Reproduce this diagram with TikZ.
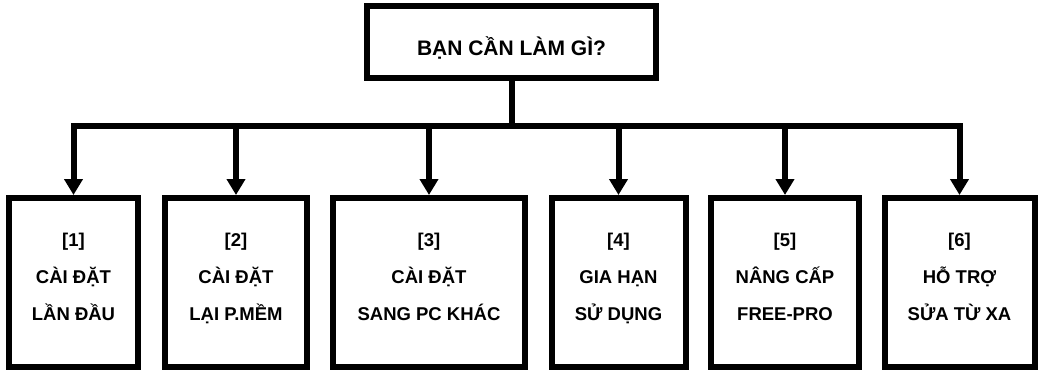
\documentclass[tikz,border=0pt]{standalone}
\usepackage{fontspec}
\setmainfont{Liberation Sans}
\usetikzlibrary{arrows.meta}
\begin{document}
\begin{tikzpicture}[x=1pt,y=-1pt,
  frame/.style={draw=black,line width=6pt,fill=white,inner sep=0pt,minimum height=169pt},
  topframe/.style={draw=black,line width=6pt,fill=white,inner sep=0pt,minimum width=289pt,minimum height=72pt},
  lbl/.style={align=center,inner sep=0pt,font=\fontsize{18.5}{37}\selectfont\bfseries},
  toplbl/.style={anchor=base,inner sep=0pt,font=\fontsize{21}{25}\selectfont\bfseries},
  link/.style={line width=6pt,draw=black},
  arr/.style={line width=6pt,draw=black,-{Triangle[width=18pt,length=16pt]}}
]
\useasboundingbox (0,0) rectangle (1043,370);
% top question
\node[topframe] (top) at (511.5,42) {};
\node[toplbl] (toptext) at (511.5,55) {BẠN CẦN LÀM GÌ?};
% option boxes
\node[frame,minimum width=129pt] (b1) at (73.5,282.5) {};
\node[frame,minimum width=142pt] (b2) at (236,282.5) {};
\node[frame,minimum width=192pt] (b3) at (429,282.5) {};
\node[frame,minimum width=134pt] (b4) at (618.5,282.5) {};
\node[frame,minimum width=148pt] (b5) at (785,282.5) {};
\node[frame,minimum width=150pt] (b6) at (959.5,282.5) {};
\node[lbl] (t1) at ([yshift=6pt]b1.center) {\strut[1]\\\strut CÀI ĐẶT\\\strut LẦN ĐẦU};
\node[lbl] (t2) at ([yshift=6pt]b2.center) {\strut[2]\\\strut CÀI ĐẶT\\\strut LẠI P.MỀM};
\node[lbl] (t3) at ([yshift=6pt]b3.center) {\strut[3]\\\strut CÀI ĐẶT\\\strut SANG PC KHÁC};
\node[lbl] (t4) at ([yshift=6pt]b4.center) {\strut[4]\\\strut GIA HẠN\\\strut SỬ DỤNG};
\node[lbl] (t5) at ([yshift=6pt]b5.center) {\strut[5]\\\strut NÂNG CẤP\\\strut FREE-PRO};
\node[lbl] (t6) at ([yshift=6pt]b6.center) {\strut[6]\\\strut HỖ TRỢ\\\strut SỬA TỪ XA};
% bus
\coordinate (bus) at (511.5,126);
\draw[link] (top.south) -- (bus);
\draw[link,line cap=rect] (b1.north |- bus) -- (b6.north |- bus);
\foreach \i in {1,...,6}{
  \draw[arr] (b\i.north |- bus) -- (b\i.north);
}
\end{tikzpicture}
\end{document}
